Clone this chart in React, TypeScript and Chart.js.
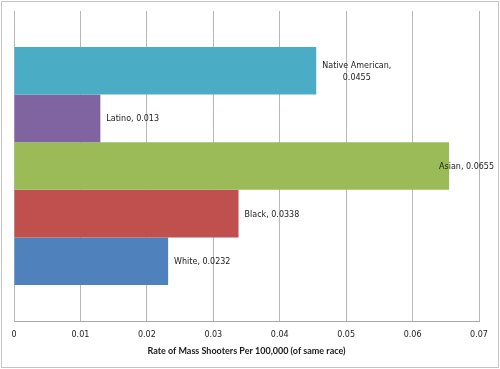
import React, { useEffect, useRef } from 'react';
import { Chart, registerables } from 'chart.js';

Chart.register(...registerables);

const races = ['Native American', 'Latino', 'Asian', 'Black', 'White'];
const rates = [0.0455, 0.013, 0.0655, 0.0338, 0.0232];
const barColors = ['#4BACC6', '#8064A2', '#9BBB59', '#C0504D', '#4F81BD'];
const xTickLabels = ['0', '0.01', '0.02', '0.03', '0.04', '0.05', '0.06', '0.07'];
const xMin = 0;
const xMax = 0.07;
const xStep = 0.01;
const axisTitle = 'Rate of Mass Shooters Per 100,000 (of same race)';

const LABEL_FONT = '8px "DejaVu Sans"';
const TEXT_COLOR = '#1a1a1a';

const borderPlugin = {
  id: 'outerBorder',
  beforeDraw(chart: any) {
    const { ctx, width, height } = chart;
    ctx.save();
    ctx.fillStyle = '#ffffff';
    ctx.fillRect(0, 0, width, height);
    ctx.strokeStyle = '#c4c4c4';
    ctx.lineWidth = 1;
    ctx.strokeRect(1.5, 1.5, width - 3, height - 3);
    ctx.restore();
  },
};

const labelPlugin = {
  id: 'barLabels',
  afterDatasetsDraw(chart: any) {
    const { ctx, width } = chart;
    ctx.save();
    ctx.font = LABEL_FONT;
    ctx.fillStyle = TEXT_COLOR;
    ctx.textBaseline = 'middle';
    chart.data.datasets.forEach((ds: any, i: number) => {
      const meta = chart.getDatasetMeta(i);
      const bar: any = meta.data[0];
      if (!bar) return;
      const full = `${ds.label}, ${ds.data[0]}`;
      let lines = [full];
      if (ctx.measureText(full).width > 80) {
        lines = [`${ds.label},`, `${ds.data[0]}`];
      }
      const boxW = Math.max(...lines.map((l) => ctx.measureText(l).width));
      let left = bar.x + 6;
      if (left + boxW > width - 6) left = width - 6 - boxW;
      const lh = 11.5;
      const y0 = bar.y + 1 - ((lines.length - 1) * lh) / 2;
      ctx.textAlign = 'center';
      lines.forEach((l, k) => {
        ctx.fillText(l, left + boxW / 2, y0 + k * lh);
      });
    });
    ctx.restore();
  },
};

export default function App() {
  const ref = useRef<HTMLCanvasElement>(null);
  useEffect(() => {
    if (!ref.current) return;
    const chart = new Chart(ref.current, {
      type: 'bar',
      data: {
        labels: [''],
        datasets: races.map((r, i) => ({
          label: r,
          data: [rates[i]],
          backgroundColor: barColors[i],
          borderWidth: 0,
          categoryPercentage: 0.768,
          barPercentage: 1.0,
        })),
      },
      options: {
        indexAxis: 'y',
        responsive: false,
        animation: false,
        layout: { padding: { left: 14, top: 11, right: 21, bottom: 0 } },
        plugins: {
          legend: { display: false },
          tooltip: { enabled: false },
        },
        scales: {
          x: {
            type: 'linear',
            min: xMin,
            max: xMax,
            afterFit: (s: any) => {
              s.height = 48;
            },
            ticks: {
              stepSize: xStep,
              padding: 9,
              color: TEXT_COLOR,
              font: { family: 'DejaVu Sans', size: 8 },
              callback: (_v: any, i: number) => xTickLabels[i],
            },
            grid: {
              color: '#b8b8b8',
              lineWidth: 1,
              drawTicks: false,
            },
            border: { display: true, color: '#a8a8a8' },
            title: {
              display: true,
              text: axisTitle,
              color: TEXT_COLOR,
              font: { family: 'Lato', size: 9, weight: 'bold' },
              padding: { top: 0, bottom: 13 },
            },
          },
          y: {
            display: false,
          },
        },
      },
      plugins: [borderPlugin, labelPlugin],
    } as any);
    return () => chart.destroy();
  }, []);
  return (
    <canvas
      ref={ref}
      width={500}
      height={369}
      style={{ position: 'fixed', left: 0, top: 0, display: 'block' }}
    />
  );
}
